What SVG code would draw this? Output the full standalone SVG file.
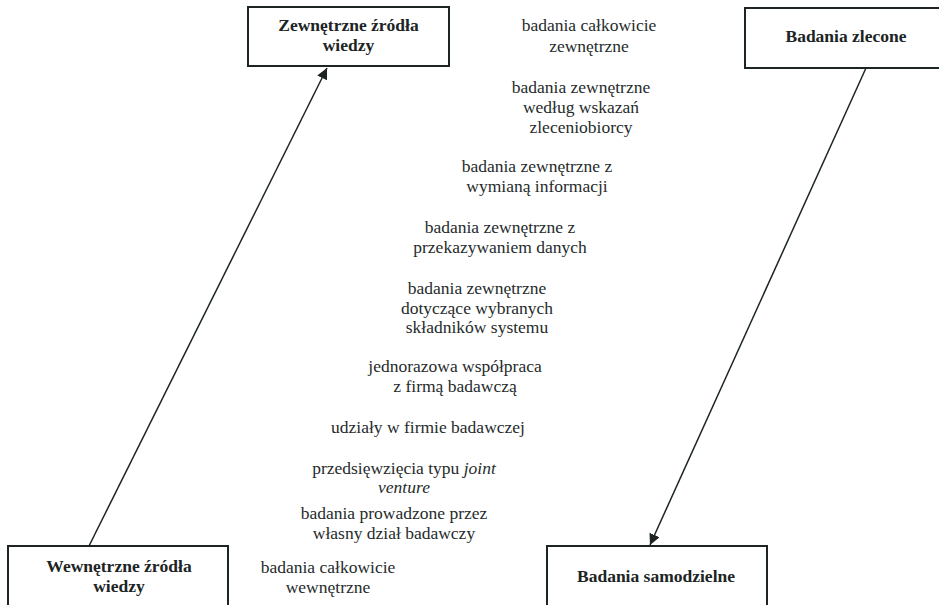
<svg xmlns="http://www.w3.org/2000/svg" width="939" height="605" viewBox="0 0 939 605" font-family="Liberation Serif, Times New Roman, serif">
<style>
.box{fill:#fff;stroke:#1c2424;stroke-width:2}
.bt{font-family:'Liberation Serif','Times New Roman',serif;font-size:17.5px;font-weight:bold;fill:#1c2424;text-anchor:middle}
.t{font-family:'Liberation Serif','Times New Roman',serif;font-size:17.5px;fill:#262b2b;text-anchor:middle}
.c{stroke:#1c2424;stroke-width:1.5;fill:none;marker-end:url(#ah)}
</style>
<defs>
<marker id="ah" viewBox="0 0 10 10" refX="10" refY="5" markerWidth="11" markerHeight="11" markerUnits="userSpaceOnUse" orient="auto"><path d="M0,0 L10,5 L0,10 z" fill="#1c2424"/></marker>
</defs>
<rect width="939" height="605" fill="#fff"/>
<g id="n-zewn">
<rect class="box" x="248" y="7" width="201" height="59"/>
<text class="bt" x="348.5" y="31">Zewnętrzne źródła</text>
<text class="bt" x="348.5" y="51">wiedzy</text>
</g>
<g id="n-zlecone">
<rect class="box" x="745" y="8" width="200" height="60"/>
<text class="bt" x="846" y="42">Badania zlecone</text>
</g>
<g id="n-wewn">
<rect class="box" x="8" y="546" width="220" height="70"/>
<text class="bt" x="119" y="572">Wewnętrzne źródła</text>
<text class="bt" x="119" y="592">wiedzy</text>
</g>
<g id="n-samodz">
<rect class="box" x="547" y="546" width="220" height="70"/>
<text class="bt" x="656" y="582">Badania samodzielne</text>
</g>
<g id="connectors">
<line class="c" x1="89" y1="546" x2="327" y2="68"/>
<line class="c" x1="866" y1="68" x2="650" y2="545"/>
</g>
<g id="labels">
<text class="t" x="589" y="31">badania całkowicie</text>
<text class="t" x="589" y="52">zewnętrzne</text>
<text class="t" x="581" y="93">badania zewnętrzne</text>
<text class="t" x="581" y="113">według wskazań</text>
<text class="t" x="581" y="133">zleceniobiorcy</text>
<text class="t" x="537" y="172">badania zewnętrzne z</text>
<text class="t" x="537" y="192">wymianą informacji</text>
<text class="t" x="500" y="233">badania zewnętrzne z</text>
<text class="t" x="500" y="253">przekazywaniem danych</text>
<text class="t" x="477" y="294">badania zewnętrzne</text>
<text class="t" x="477" y="314">dotyczące wybranych</text>
<text class="t" x="477" y="333">składników systemu</text>
<text class="t" x="455" y="372">jednorazowa współpraca</text>
<text class="t" x="455" y="392">z firmą badawczą</text>
<text class="t" x="428" y="433">udziały w firmie badawczej</text>
<text class="t" x="404" y="474">przedsięwzięcia typu <tspan font-style="italic">joint</tspan></text>
<text class="t" x="404" y="493" font-style="italic">venture</text>
<text class="t" x="394" y="519">badania prowadzone przez</text>
<text class="t" x="394" y="539">własny dział badawczy</text>
<text class="t" x="328" y="573">badania całkowicie</text>
<text class="t" x="328" y="593">wewnętrzne</text>
</g>
</svg>
